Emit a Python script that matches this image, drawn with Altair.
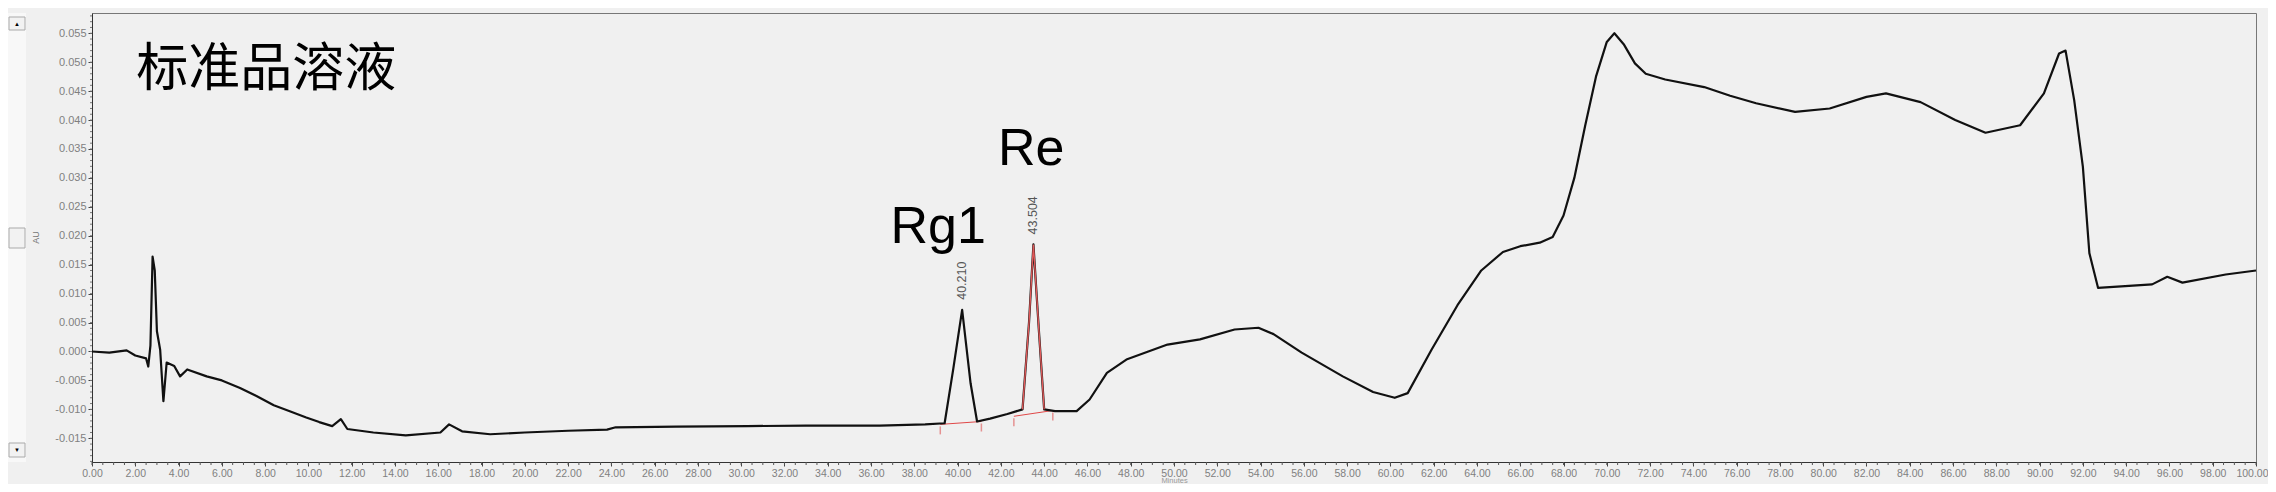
import altair as alt
import numpy as np
import pandas as pd

# ---- chromatogram trace (minutes, AU) ----
time_min = [0.0, 0.8, 1.6, 2.0, 2.5, 2.6, 2.7, 2.8, 2.9, 3.0, 3.15, 3.3, 3.45, 3.8, 4.07, 4.4,
            5.3, 6.0, 6.84, 7.6, 8.4, 9.2, 9.9, 10.5, 11.1, 11.5, 11.8, 13.0, 14.5, 16.1, 16.5,
            17.1, 18.4, 20.0, 22.0, 23.8, 24.2, 27.0, 30.3, 33.0, 36.4, 38.5, 39.4, 39.8, 40.21,
            40.6, 40.9, 41.5, 42.3, 43.0, 43.3, 43.504, 43.75, 44.0, 44.5, 45.5, 46.1, 46.9, 47.8,
            49.7, 51.2, 52.8, 53.9, 54.6, 55.9, 57.8, 59.2, 60.2, 60.8, 61.9, 63.1, 64.2, 65.2,
            66.0, 66.9, 67.5, 68.0, 68.5, 69.0, 69.5, 70.0, 70.35, 70.8, 71.3, 71.8, 72.7, 74.5,
            75.7, 76.9, 78.7, 80.3, 82.0, 82.9, 84.5, 86.1, 87.5, 89.1, 90.2, 90.9, 91.2, 91.6,
            92.0, 92.3, 92.7, 95.2, 95.9, 96.6, 98.6, 100.0]
absorbance = [0.0000, -0.0002, 0.0002, -0.0007, -0.0012, -0.0026, 0.0010, 0.0164, 0.0140, 0.0035,
              0.0003, -0.0086, -0.0019, -0.0025, -0.0043, -0.0031, -0.0043, -0.0050, -0.0063,
              -0.0077, -0.0093, -0.0104, -0.0114, -0.0122, -0.0129, -0.0117, -0.0134, -0.0140,
              -0.0145, -0.0140, -0.0126, -0.0138, -0.0143, -0.0140, -0.0137, -0.0135, -0.0131,
              -0.0130, -0.0129, -0.0128, -0.0128, -0.0126, -0.0124, -0.0030, 0.0072, -0.0055,
              -0.0121, -0.0116, -0.0108, -0.0100, 0.0050, 0.0185, 0.0040, -0.0100, -0.0103,
              -0.0103, -0.0083, -0.0037, -0.0014, 0.0012, 0.0021, 0.0038, 0.0041, 0.0030,
              -0.0002, -0.0043, -0.0070, -0.0080, -0.0072, 0.0003, 0.0080, 0.0140, 0.0172,
              0.0182, 0.0188, 0.0198, 0.0235, 0.0300, 0.0390, 0.0475, 0.0535, 0.0550, 0.0530,
              0.0498, 0.0480, 0.0470, 0.0457, 0.0442, 0.0429, 0.0414, 0.0420, 0.0440, 0.0446,
              0.0431, 0.0400, 0.0378, 0.0391, 0.0446, 0.0515, 0.0520, 0.0434, 0.0319, 0.0170,
              0.0110, 0.0116, 0.0129, 0.0119, 0.0133, 0.0140]

# integrated Re peak (drawn red)
re_time = [43.0, 43.3, 43.504, 43.75, 44.0]
re_abs = [-0.0100, 0.0050, 0.0185, 0.0040, -0.0100]

# integration baselines
base_time = [39.2, 41.1, 42.6, 44.4]
base_abs = [-0.0126, -0.0121, -0.0112, -0.0102]
base_peak = ["Rg1", "Rg1", "Re", "Re"]

# retention time labels
rt_time = [40.21, 43.504]
rt_abs = [0.0072, 0.0185]
rt_text = ["40.210", "43.504"]

# compound names
name_time = [39.1, 43.4]
name_abs = [0.0188, 0.0322]
name_text = ["Rg1", "Re"]

panel_title = "标准品溶液"
panel_time = [2.05]
panel_abs = [0.0487]

x_ticks = [round(v, 2) for v in np.arange(0, 100.01, 2)]
y_ticks = [round(-0.015 + 0.005 * i, 3) for i in range(15)]
x_minor = [round(v, 2) for v in np.arange(0, 100.01, 0.5)]
y_minor = [round(-0.019 + 0.001 * i, 3) for i in range(78)]

W, H = 2164, 449
GRAY = "#808080"

x_enc = alt.X("t:Q", scale=alt.Scale(domain=[0, 100], nice=False, zero=False),
              axis=alt.Axis(values=x_ticks, format=".2f", labelFont="Liberation Sans",
                            labelFontSize=10.5, labelColor=GRAY, labelPadding=2,
                            labelOverlap=False, labelFlush=False, tickSize=4, tickColor="#444",
                            labelAlign={"expr": "datum.value >= 100 ? 'right' : 'center'"},
                            labelOffset={"expr": "datum.value >= 100 ? 12 : 0"},
                            domainColor="#333", grid=False, title="Minutes",
                            titleFont="Liberation Sans", titleFontSize=7.5,
                            titleFontWeight="normal", titleColor="#999", titleY=22,
                            titleBaseline="bottom"))
y_enc = alt.Y("a:Q", scale=alt.Scale(domain=[-0.0191, 0.0585], nice=False, zero=False),
              axis=alt.Axis(values=y_ticks,
                            labelExpr="replace(format(datum.value, '.3f'), '\u2212', '-')",
                            labelFont="Liberation Sans", labelFontSize=11, labelColor=GRAY,
                            labelPadding=2, tickSize=4, tickColor="#444", domainColor="#333",
                            grid=False, title="AU", titleFont="Liberation Sans",
                            titleFontSize=9, titleFontWeight="normal", titleColor="#777",
                            titleX=-52, titleY=224, titleAngle=270))

trace_df = pd.DataFrame({"t": time_min, "a": absorbance})
re_df = pd.DataFrame({"t": re_time, "a": re_abs})
base_df = pd.DataFrame({"t": base_time, "a": base_abs, "peak": base_peak})
rt_df = pd.DataFrame({"t": rt_time, "a": rt_abs, "label": rt_text})
name_df = pd.DataFrame({"t": name_time, "a": name_abs, "label": name_text})
panel_df = pd.DataFrame({"t": panel_time, "a": panel_abs, "label": [panel_title]})
xm_df = pd.DataFrame({"t": x_minor})
ym_df = pd.DataFrame({"a": y_minor})
one = pd.DataFrame({"k": [0]})

trace = alt.Chart(trace_df).mark_line(color="#111111", strokeWidth=2.2,
                                      strokeJoin="round").encode(x=x_enc, y=y_enc)
re_line = alt.Chart(re_df).mark_line(color="#e05a5a", strokeWidth=1.4).encode(x=x_enc, y=y_enc)
base = alt.Chart(base_df).mark_line(color="#e04848", strokeWidth=1).encode(
    x=x_enc, y=y_enc, detail="peak:N")
base_marks = alt.Chart(base_df).mark_tick(color="#e06a6a", thickness=1.5, size=8,
                                          orient="vertical", yOffset=6).encode(x=x_enc, y=y_enc)
rt_labels = alt.Chart(rt_df).mark_text(angle=270, align="left", baseline="middle", dx=10,
                                       font="Liberation Sans", fontSize=12.5,
                                       color="#555555").encode(x=x_enc, y=y_enc, text="label:N")
names = alt.Chart(name_df).mark_text(align="center", baseline="alphabetic",
                                     font="Liberation Sans", fontSize=52,
                                     color="#000000").encode(x=x_enc, y=y_enc, text="label:N")
panel = alt.Chart(panel_df).mark_text(align="left", baseline="middle",
                                      font="Noto Sans CJK SC", fontSize=52,
                                      color="#000000").encode(x=x_enc, y=y_enc, text="label:N")
x_minor_ticks = alt.Chart(xm_df).mark_rule(color="#555", strokeWidth=1).encode(
    x=x_enc, y=alt.value(H), y2=alt.value(H + 3))
y_minor_ticks = alt.Chart(ym_df).mark_rule(color="#777", strokeWidth=1).encode(
    y=y_enc, x=alt.value(-2), x2=alt.value(0))

# left scroll widget of the instrument software window
track = alt.Chart(one).mark_rect(fill="#f8f8f8").encode(
    x=alt.value(-84), x2=alt.value(-66), y=alt.value(0), y2=alt.value(H))
btn_up = alt.Chart(one).mark_rect(fill="#f2f2f2", stroke="#aaaaaa", strokeWidth=1).encode(
    x=alt.value(-83), x2=alt.value(-67), y=alt.value(4), y2=alt.value(17))
btn_mid = alt.Chart(one).mark_rect(fill="#f2f2f2", stroke="#aaaaaa", strokeWidth=1).encode(
    x=alt.value(-83), x2=alt.value(-67), y=alt.value(215), y2=alt.value(235))
btn_dn = alt.Chart(one).mark_rect(fill="#f2f2f2", stroke="#aaaaaa", strokeWidth=1).encode(
    x=alt.value(-83), x2=alt.value(-67), y=alt.value(430), y2=alt.value(444))
glyph_up = alt.Chart(one).mark_text(text="\u25b2", fontSize=6, color="#000").encode(
    x=alt.value(-75), y=alt.value(11))
glyph_dn = alt.Chart(one).mark_text(text="\u25bc", fontSize=6, color="#000").encode(
    x=alt.value(-75), y=alt.value(437))

chart = alt.layer(
    track, btn_up, btn_mid, btn_dn, glyph_up, glyph_dn,
    x_minor_ticks, y_minor_ticks, base, trace, re_line, base_marks,
    rt_labels, names, panel
).properties(
    width=W, height=H, autosize="none",
    padding={"left": 84, "top": 5, "right": 12, "bottom": 22},
    background="#f0f0f0"
).configure_view(fill="#f0f0f0", stroke="#777777", strokeWidth=1)

chart.save("out.html", embed_options={"renderer": "svg", "actions": False})
